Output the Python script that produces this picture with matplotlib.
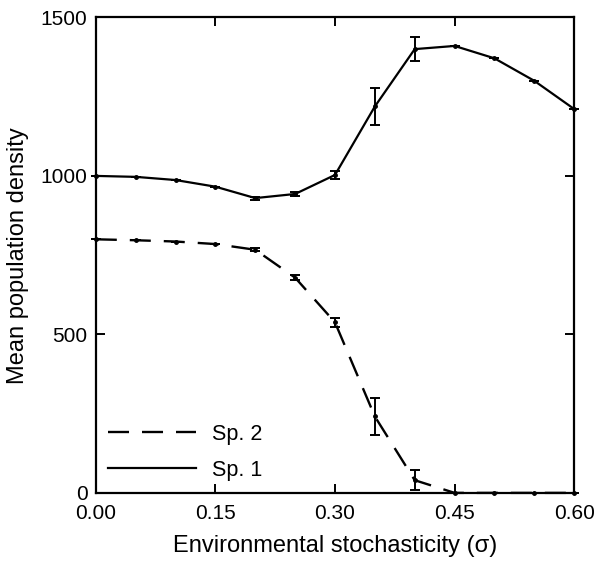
import numpy as np
import matplotlib
matplotlib.use("Agg")
import matplotlib.pyplot as plt

plt.rcParams['font.family'] = ['Liberation Sans', 'DejaVu Sans']

# environmental stochasticity levels
sigma = [0.00, 0.05, 0.10, 0.15, 0.20, 0.25, 0.30, 0.35, 0.40, 0.45, 0.50, 0.55, 0.60]

# species 1 (solid)
sp1 = [1000, 997, 987, 966, 930, 943, 1003, 1219, 1400, 1410, 1371, 1300, 1211]
sp1_err = [0, 0, 0, 0, 5, 6, 12, 59, 38, 0, 0, 0, 0]

# species 2 (dashed)
sp2 = [800, 797, 793, 785, 767, 679, 538, 241, 40, 0, 0, 0, 0]
sp2_err = [0, 0, 0, 0, 4, 8, 14, 58, 32, 0, 0, 0, 0]

fig = plt.figure(figsize=(5.95, 5.62), dpi=100)
ax = fig.add_axes([0.161, 0.123, 0.804, 0.846])

ax.errorbar(sigma, sp2, yerr=sp2_err, color='black', lw=1.7, ls=(0, (8.9, 5.5)),
            marker='o', ms=2.5, capsize=3.5, elinewidth=1.4, capthick=1.4,
            label='Sp. 2', clip_on=False)
ax.errorbar(sigma, sp1, yerr=sp1_err, color='black', lw=1.6, ls='-',
            marker='o', ms=2.5, capsize=3.5, elinewidth=1.4, capthick=1.4,
            label='Sp. 1', clip_on=False)

ax.set_xlim(0, 0.6)
ax.set_ylim(0, 1500)
ax.set_xticks([0.0, 0.15, 0.30, 0.45, 0.60])
ax.set_xticklabels(['0.00', '0.15', '0.30', '0.45', '0.60'])
ax.set_yticks([0, 500, 1000, 1500])

ax.tick_params(direction='in', length=6.5, width=1.4, top=True, right=True,
               labelsize=15)
ax.tick_params(axis='x', pad=8)
ax.tick_params(axis='y', pad=6)
for s in ax.spines.values():
    s.set_linewidth(1.6)

ax.set_xlabel('Environmental stochasticity (σ)', fontsize=17, labelpad=9)
ax.set_ylabel('Mean population density', fontsize=17, labelpad=8)

handles, labels = ax.get_legend_handles_labels()
leg = ax.legend([h[0] for h in handles], labels, loc='lower left', frameon=False,
                fontsize=15.5, handlelength=4.12, handletextpad=0.74,
                labelspacing=0.68, borderpad=0, borderaxespad=0,
                bbox_to_anchor=(0.025, 0.026))
for line in leg.get_lines():
    line.set_marker('')

fig.savefig('out.png', dpi=100)
